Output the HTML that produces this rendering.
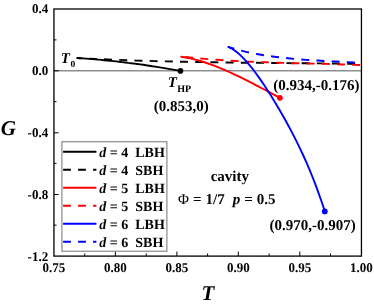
<!DOCTYPE html>
<html><head><meta charset="utf-8">
<style>
html,body{margin:0;padding:0;background:#fff;}
svg{display:block;will-change:transform;}
text{font-family:"Liberation Serif",serif;font-weight:bold;fill:#000;text-rendering:geometricPrecision;}
.tk{font-size:13px;}
.lg{font-size:14px;}
.an{font-size:15px;}
i{font-style:italic}
</style></head><body>
<svg width="374" height="306" viewBox="0 0 374 306">
<rect width="374" height="306" fill="#fff"/>
<!-- zero line -->
<line x1="54" y1="70.85" x2="361" y2="70.85" stroke="#8e8e8e" stroke-width="1.5"/>
<!-- axes -->
<rect x="53.95" y="9" width="307.5" height="247.1" fill="none" stroke="#000" stroke-width="1.3"/>
<!-- ticks -->
<g stroke="#000" stroke-width="1">
<!-- y major -->
<line x1="54" y1="70.8" x2="58.6" y2="70.8"/>
<line x1="54" y1="132.8" x2="58.6" y2="132.8"/>
<line x1="54" y1="194.5" x2="58.6" y2="194.5"/>
<!-- y minor -->
<line x1="54" y1="39.9" x2="56.5" y2="39.9"/>
<line x1="54" y1="101.7" x2="56.5" y2="101.7"/>
<line x1="54" y1="163.4" x2="56.5" y2="163.4"/>
<line x1="54" y1="225.1" x2="56.5" y2="225.1"/>
<!-- x major -->
<line x1="115.4" y1="256" x2="115.4" y2="251.5"/>
<line x1="176.9" y1="256" x2="176.9" y2="251.5"/>
<line x1="238.3" y1="256" x2="238.3" y2="251.5"/>
<line x1="299.8" y1="256" x2="299.8" y2="251.5"/>
<!-- x minor -->
<line x1="84.7" y1="256" x2="84.7" y2="253.5"/>
<line x1="146.2" y1="256" x2="146.2" y2="253.5"/>
<line x1="207.6" y1="256" x2="207.6" y2="253.5"/>
<line x1="269.1" y1="256" x2="269.1" y2="253.5"/>
<line x1="330.5" y1="256" x2="330.5" y2="253.5"/>
</g>
<!-- y tick labels -->
<g class="tk" text-anchor="end">
<text transform="translate(48.2,13.4) scale(1,1.03)">0.4</text>
<text transform="translate(48.2,75.2) scale(1,1.03)">0.0</text>
<text transform="translate(48.2,137.2) scale(1,1.03)">-0.4</text>
<text transform="translate(48.2,198.9) scale(1,1.03)">-0.8</text>
<text transform="translate(48.2,260.5) scale(1,1.03)">-1.2</text>
</g>
<g class="tk" text-anchor="middle">
<text transform="translate(53.95,272.4) scale(1,1.03)">0.75</text>
<text transform="translate(115.4,272.4) scale(1,1.03)">0.80</text>
<text transform="translate(176.9,272.4) scale(1,1.03)">0.85</text>
<text transform="translate(238.4,272.4) scale(1,1.03)">0.90</text>
<text transform="translate(299.9,272.4) scale(1,1.03)">0.95</text>
<text transform="translate(361.4,272.4) scale(1,1.03)">1.00</text>
</g>
<!-- axis labels -->
<text x="0.8" y="134.5" font-size="21" font-style="italic">G</text>
<text x="201.5" y="300.4" font-size="21" font-style="italic">T</text>
<!-- curves -->
<g fill="none" stroke-width="1.9" stroke-linecap="butt" stroke-linejoin="round">
<path d="M77.2,58.0 L83.2,58.3 L89.2,58.6 L95.2,58.9 L101.2,59.2 L107.2,59.4 L113.2,59.7 L119.2,59.9 L125.2,60.1 L131.2,60.4 L137.2,60.6 L143.2,60.7 L149.2,60.9 L155.2,61.1 L161.2,61.3 L167.2,61.4 L173.2,61.5 L179.2,61.7 L185.2,61.8 L191.2,61.9 L197.2,62.0 L203.2,62.1 L209.2,62.2 L215.2,62.3 L221.2,62.4 L227.2,62.5 L233.2,62.6 L239.2,62.7 L245.2,62.7 L251.2,62.8 L257.2,62.8 L263.2,62.9 L269.2,63.0 L275.2,63.0 L281.2,63.1 L287.2,63.1 L293.2,63.2 L299.2,63.2 L305.2,63.3 L311.2,63.3 L317.2,63.4 L323.2,63.4 L329.2,63.5 L335.2,63.5 L341.2,63.6 L347.2,63.7 L353.2,63.7 L359.2,63.8 L361.0,63.8" stroke="#000" stroke-dasharray="8 7.2" stroke-dashoffset="3.5"/>
<path d="M181.3,56.5 L187.3,57.2 L193.3,57.8 L199.3,58.4 L205.3,58.9 L211.3,59.4 L217.3,59.8 L223.3,60.3 L229.3,60.6 L235.3,61.0 L241.3,61.3 L247.3,61.6 L253.3,61.8 L259.3,62.1 L265.3,62.3 L271.3,62.5 L277.3,62.7 L283.3,62.9 L289.3,63.0 L295.3,63.2 L301.3,63.3 L307.3,63.5 L313.3,63.6 L319.3,63.8 L325.3,63.9 L331.3,64.1 L337.3,64.3 L343.3,64.5 L349.3,64.7 L355.3,64.9 L361.0,65.1" stroke="#f00" stroke-dasharray="8 7.2" stroke-dashoffset="11.3"/>
<path d="M228.1,46.90 L234.1,48.77 L240.1,50.45 L246.1,51.85 L252.1,53.15 L258.1,54.25 L264.1,55.25 L270.1,56.15 L276.1,56.95 L282.1,57.65 L288.1,58.25 L294.1,58.85 L300.1,59.35 L306.1,59.85 L312.1,60.25 L318.1,60.55 L324.1,60.95 L330.1,61.25 L336.1,61.55 L342.1,61.85 L348.1,62.15 L354.1,62.55 L360.1,62.95 L361.0,62.95" stroke="#00f" stroke-dasharray="8 7.2" stroke-dashoffset="1.6"/>
<path d="M77.2,58.0 L80.2,58.2 L83.2,58.4 L86.2,58.6 L89.2,58.9 L92.2,59.1 L95.2,59.4 L98.2,59.6 L101.2,59.9 L104.2,60.2 L107.2,60.5 L110.2,60.8 L113.2,61.1 L116.2,61.4 L119.2,61.8 L122.2,62.1 L125.2,62.5 L128.2,62.9 L131.2,63.2 L134.2,63.6 L137.2,64.0 L140.2,64.4 L143.2,64.8 L146.2,65.3 L149.2,65.7 L152.2,66.2 L155.2,66.6 L158.2,67.1 L161.2,67.6 L164.2,68.1 L167.2,68.6 L170.2,69.1 L173.2,69.6 L176.2,70.1 L179.2,70.7 L180.5,70.9" stroke="#000" stroke-linecap="round"/>
<path d="M181.2,56.7 L184.2,57.2 L187.2,57.7 L190.2,58.3 L193.2,59.0 L196.2,59.8 L199.2,60.6 L202.2,61.5 L205.2,62.5 L208.2,63.5 L211.2,64.6 L214.2,65.7 L217.2,66.8 L220.2,68.1 L223.2,69.3 L226.2,70.6 L229.2,72.0 L232.2,73.3 L235.2,74.8 L238.2,76.2 L241.2,77.7 L244.2,79.2 L247.2,80.7 L250.2,82.2 L253.2,83.7 L256.2,85.3 L259.2,86.9 L262.2,88.5 L265.2,90.0 L268.2,91.6 L271.2,93.2 L274.2,94.8 L277.2,96.4 L279.9,97.8" stroke="#f00" stroke-linecap="round"/>
<path d="M228.3,46.9 L231.3,48.3 L234.3,50.2 L237.3,52.5 L240.3,55.1 L243.3,58.1 L246.3,61.3 L249.3,64.8 L252.3,68.5 L255.3,72.5 L258.3,76.6 L261.3,80.9 L264.3,85.3 L267.3,89.9 L270.3,94.6 L273.3,99.4 L276.3,104.4 L279.3,109.5 L282.3,114.7 L285.3,120.0 L288.3,125.5 L291.3,131.1 L294.3,136.9 L297.3,142.9 L300.3,149.1 L303.3,155.5 L306.3,162.2 L309.3,169.2 L312.3,176.5 L315.3,184.2 L318.3,192.3 L321.3,200.8 L324.3,209.8 L324.8,211.4" stroke="#00f" stroke-linecap="round"/>
</g>
<circle cx="180.5" cy="70.9" r="2.8" fill="#000"/>
<circle cx="279.9" cy="97.8" r="2.9" fill="#f00"/>
<circle cx="324.8" cy="211.4" r="2.9" fill="#00f"/>
<!-- annotations -->
<text class="an" x="60.8" y="62.5"><tspan font-style="italic">T</tspan><tspan font-size="9.5" dy="4.2" dx="0.6">0</tspan></text>
<text class="an" x="167.7" y="87.3"><tspan font-style="italic">T</tspan><tspan font-size="10" dy="5" dx="0.3">HP</tspan></text>
<text class="an" x="153.7" y="110.6">(0.853,0)</text>
<text class="an" x="273.2" y="89.7">(0.934,-0.176)</text>
<text class="an" x="269.4" y="230.3">(0.970,-0.907)</text>
<text class="an" x="210.7" y="181">cavity</text>
<text class="an" x="178" y="203.6" style="white-space:pre;word-spacing:0.27px"><tspan font-weight="normal">Φ</tspan> = 1/7  <tspan font-style="italic">p</tspan> = 0.5</text>
<!-- legend -->
<rect x="61.9" y="141.75" width="105" height="109.5" fill="#fff" stroke="#8a8a8a" stroke-width="1.2"/>
<g fill="none" stroke-width="1.9">
<line x1="63.1" y1="151.7" x2="96.4" y2="151.7" stroke="#000"/>
<line x1="63.1" y1="169.7" x2="96.4" y2="169.7" stroke="#000" stroke-dasharray="7.8 7.2"/>
<line x1="63.1" y1="187.7" x2="96.4" y2="187.7" stroke="#f00"/>
<line x1="63.1" y1="205.7" x2="96.4" y2="205.7" stroke="#f00" stroke-dasharray="7.8 7.2"/>
<line x1="63.1" y1="223.7" x2="96.4" y2="223.7" stroke="#00f"/>
<line x1="63.1" y1="241.7" x2="96.4" y2="241.7" stroke="#00f" stroke-dasharray="7.8 7.2"/>
</g>
<g class="lg">
<text x="99.3" y="156.7" style="white-space:pre"><tspan font-style="italic">d</tspan> = 4  LBH</text>
<text x="99.3" y="174.7" style="white-space:pre"><tspan font-style="italic">d</tspan> = 4  SBH</text>
<text x="99.3" y="192.8" style="white-space:pre"><tspan font-style="italic">d</tspan> = 5  LBH</text>
<text x="99.3" y="210.8" style="white-space:pre"><tspan font-style="italic">d</tspan> = 5  SBH</text>
<text x="99.3" y="228.9" style="white-space:pre"><tspan font-style="italic">d</tspan> = 6  LBH</text>
<text x="99.3" y="246.9" style="white-space:pre"><tspan font-style="italic">d</tspan> = 6  SBH</text>
</g>
</svg>
</body></html>
